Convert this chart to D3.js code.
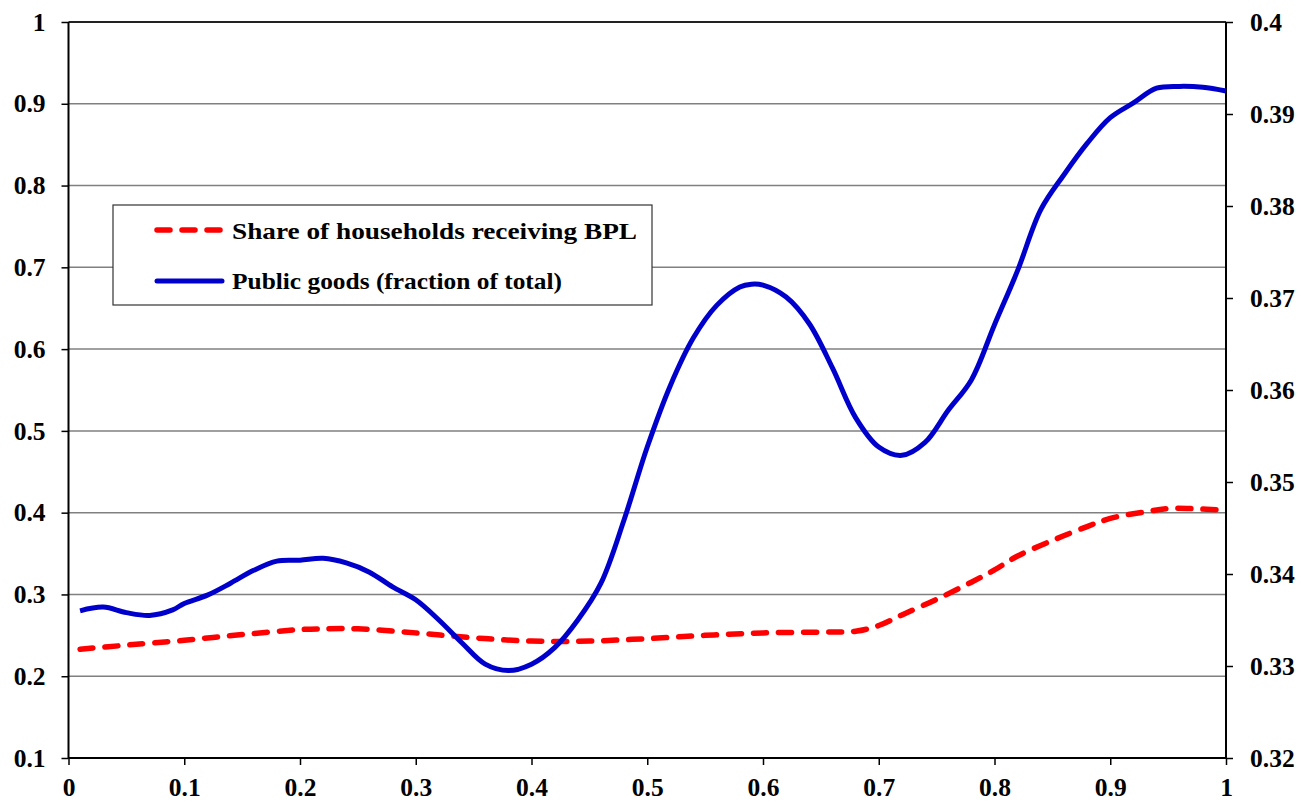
<!DOCTYPE html>
<html><head><meta charset="utf-8">
<script src="https://cdn.jsdelivr.net/npm/d3@7"></script>
<style>body{margin:0;background:#fff}svg{display:block}</style>
</head><body><svg id="c" width="1301" height="804"></svg>
<script>
const xTicks = [0,0.1,0.2,0.3,0.4,0.5,0.6,0.7,0.8,0.9,1];
const leftTicks = [0.1,0.2,0.3,0.4,0.5,0.6,0.7,0.8,0.9,1];
const rightTicks = [0.32,0.33,0.34,0.35,0.36,0.37,0.38,0.39,0.4];
const seriesNames = ["Share of households receiving BPL","Public goods (fraction of total)"];

const bplX = [0.01,0.05,0.1,0.15,0.2,0.22,0.25,0.3,0.35,0.4,0.45,0.5,0.55,0.6,0.65,0.68,0.7,0.72,0.75,0.78,0.8,0.82,0.85,0.88,0.9,0.93,0.95,0.97,1.0];
const bplY = [0.233,0.238,0.244,0.251,0.257,0.258,0.258,0.253,0.247,0.243,0.243,0.246,0.250,0.253,0.254,0.255,0.262,0.275,0.294,0.315,0.330,0.347,0.366,0.383,0.393,0.401,0.405,0.405,0.403];

const pgX = [0.01,0.03,0.05,0.07,0.09,0.1,0.12,0.14,0.16,0.18,0.2,0.22,0.24,0.26,0.28,0.3,0.32,0.34,0.36,0.38,0.4,0.42,0.44,0.46,0.48,0.5,0.52,0.54,0.56,0.58,0.59,0.6,0.62,0.64,0.66,0.68,0.7,0.72,0.74,0.76,0.78,0.8,0.82,0.84,0.86,0.88,0.9,0.92,0.94,0.96,0.98,1.0];
const pgY = [0.3360,0.3364,0.3358,0.3355,0.3361,0.3368,0.3377,0.3390,0.3404,0.3414,0.3415,0.3417,0.3412,0.3402,0.3386,0.3372,0.3350,0.3325,0.3302,0.3295,0.3302,0.3320,0.3350,0.3390,0.3459,0.3538,0.3605,0.3657,0.3692,0.3712,0.3715,0.3714,0.3701,0.3672,0.3624,0.3570,0.3538,0.3529,0.3543,0.3578,0.3611,0.3671,0.3730,0.3796,0.3834,0.3868,0.3896,0.3912,0.3928,0.3930,0.3929,0.3925];

const FONT="'Liberation Serif','Times New Roman','Nimbus Roman','DejaVu Serif',serif";
const FS=25.5;
const L=68.5,R=1226,T=22,B=758;
const svg=d3.select("#c");
const x=d3.scaleLinear().domain([0,1]).range([L,R]);
const yL=d3.scaleLinear().domain([0.1,1]).range([B,T]);
const yR=d3.scaleLinear().domain([0.32,0.4]).range([B,T]);

svg.append("g").selectAll("line").data(leftTicks.filter(d=>d>0.1&&d<1)).join("line")
 .attr("x1",L).attr("x2",R).attr("y1",d=>yL(d)).attr("y2",d=>yL(d))
 .attr("stroke","#808080").attr("stroke-width",1.5);
svg.append("line").attr("x1",L).attr("x2",R).attr("y1",T).attr("y2",T).attr("stroke","#222").attr("stroke-width",2);

const fmt=d=>d===0?"0":d===1?"1":String(+d.toFixed(2));
const ax=svg.append("g").attr("transform",`translate(0,${B})`).call(d3.axisBottom(x).tickValues(xTicks).tickFormat(fmt).tickSize(7).tickPadding(13));
const al=svg.append("g").attr("transform",`translate(${L},0)`).call(d3.axisLeft(yL).tickValues(leftTicks).tickFormat(fmt).tickSize(7).tickPadding(16));
const ar=svg.append("g").attr("transform",`translate(${R},0)`).call(d3.axisRight(yR).tickValues(rightTicks).tickFormat(fmt).tickSize(7).tickPadding(17));
[ax,al,ar].forEach(g=>{g.attr("font-family",null);
 g.selectAll(".domain").attr("stroke","#000").attr("stroke-width",2);
 g.selectAll(".tick line").attr("stroke","#000").attr("stroke-width",1.5);
 g.selectAll("text").style("font-size",FS+"px").style("font-family",FONT).style("font-weight","bold").attr("fill","#000")
  .each(function(){const s=this.textContent;const w=[...s].reduce((a,c)=>a+(c==="."?0.25:0.5),0)*FS;
    d3.select(this).attr("textLength",w).attr("lengthAdjust","spacingAndGlyphs");});});
ax.selectAll(".domain").attr("d",`M${L},0H${R}`);
al.selectAll(".domain").attr("d",`M0,${B}V${T}`);
ar.selectAll(".domain").attr("d",`M0,${B}V${T}`);

const line=(xs,ys,y)=>d3.line().x((d,i)=>x(xs[i])).y((d,i)=>y(ys[i])).curve(d3.curveCatmullRom)(xs);
svg.append("path").attr("d",line(bplX,bplY,yL)).attr("fill","none").attr("stroke","#ff0000").attr("stroke-width",5.5)
 .attr("stroke-dasharray","13,12").attr("stroke-linecap","round");
svg.append("path").attr("d",line(pgX,pgY,yR)).attr("fill","none").attr("stroke","#0000cc").attr("stroke-width",5)
 .attr("stroke-linejoin","round");

const legendWidths=[405,330];
const lg=svg.append("g");
lg.append("rect").attr("x",113).attr("y",205).attr("width",539).attr("height",100).attr("fill","#fff").attr("stroke","#333").attr("stroke-width",1.2);
lg.append("line").attr("x1",157).attr("x2",221).attr("y1",230).attr("y2",230).attr("stroke","#ff0000").attr("stroke-width",5.5).attr("stroke-dasharray","13,12").attr("stroke-linecap","round");
lg.append("line").attr("x1",157).attr("x2",222).attr("y1",281).attr("y2",281).attr("stroke","#0000cc").attr("stroke-width",5).attr("stroke-linecap","round");
lg.selectAll("text").data(seriesNames).join("text").attr("x",232).attr("y",(d,i)=>239+i*50)
 .style("font-size","24px").style("font-family",FONT).style("font-weight","bold").attr("fill","#000")
 .attr("textLength",(d,i)=>legendWidths[i]).attr("lengthAdjust","spacingAndGlyphs").text(d=>d);
</script></body></html>
